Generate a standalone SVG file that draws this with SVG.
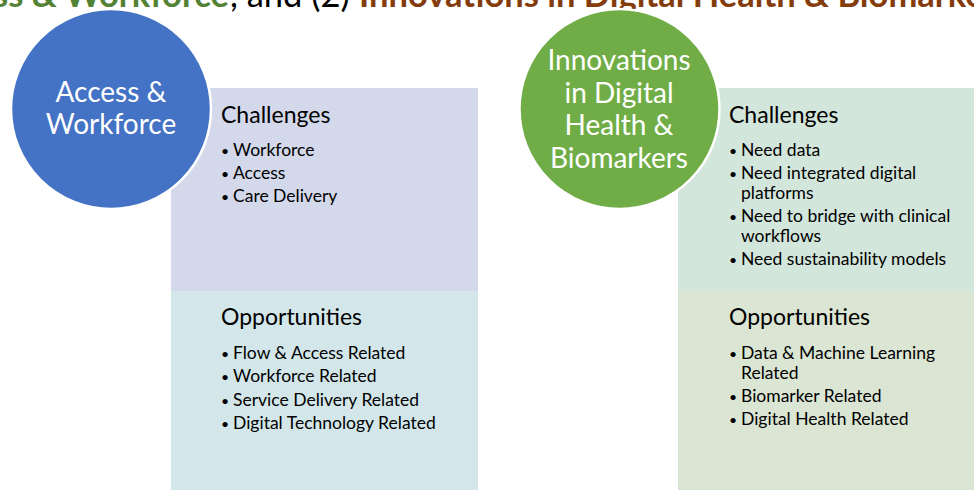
<svg xmlns="http://www.w3.org/2000/svg" width="974" height="490" viewBox="0 0 974 490">
  <style>
    .t { font-family: Lato, "Open Sans", "Liberation Sans", sans-serif; }
    .title-g { font-weight: 700; fill: #548235; font-size: 34.5px; }
    .title-k { font-weight: 400; fill: #000000; font-size: 34.5px; }
    .title-b { font-weight: 700; fill: #843C0C; font-size: 34.5px; }
    .circ { stroke: #FFFFFF; stroke-width: 2.5; }
    .ctext { fill: #FFFFFF; font-size: 28px; text-anchor: middle; }
    .head { fill: #000000; font-size: 23px; }
    .item { fill: #000000; font-size: 17.5px; }
    .bul { font-size: 14px; }
  </style>

  <g id="title" class="t">
    <text class="title-g" x="229" y="7" text-anchor="end">Access &amp; Workforce</text>
    <text class="title-k" x="230" y="7">, and (2)</text>
    <text class="title-b" x="359" y="7">Innovations in Digital Health &amp; Biomarkers</text>
  </g>

  <g id="access-challenges" class="t">
    <rect x="171" y="88" width="307" height="203" fill="#D3D8EB"/>
    <text class="head" x="221" y="122.5">Challenges</text>
    <text class="item" y="155.5"><tspan class="bul" x="221">•</tspan><tspan x="233">Workforce</tspan></text>
    <text class="item" y="178.9"><tspan class="bul" x="221">•</tspan><tspan x="233">Access</tspan></text>
    <text class="item" y="202.3"><tspan class="bul" x="221">•</tspan><tspan x="233">Care Delivery</tspan></text>
  </g>

  <g id="access-opportunities" class="t">
    <rect x="171" y="291" width="307" height="199" fill="#D3E7EA"/>
    <text class="head" x="221" y="325">Opportunities</text>
    <text class="item" y="358.8"><tspan class="bul" x="221">•</tspan><tspan x="233">Flow &amp; Access Related</tspan></text>
    <text class="item" y="382.2"><tspan class="bul" x="221">•</tspan><tspan x="233">Workforce Related</tspan></text>
    <text class="item" y="405.6"><tspan class="bul" x="221">•</tspan><tspan x="233">Service Delivery Related</tspan></text>
    <text class="item" y="429"><tspan class="bul" x="221">•</tspan><tspan x="233">Digital Technology Related</tspan></text>
  </g>

  <g id="access-workforce" class="t">
    <circle class="circ" cx="111" cy="109" r="100" fill="#4472C4"/>
    <text class="ctext" x="111" y="101.5">Access &amp;</text>
    <text class="ctext" x="111" y="134">Workforce</text>
  </g>

  <g id="innovation-challenges" class="t">
    <rect x="678" y="88" width="296" height="203" fill="#D3E6DB"/>
    <text class="head" x="729" y="122.5">Challenges</text>
    <text class="item" y="155.5"><tspan class="bul" x="729">•</tspan><tspan x="741">Need data</tspan></text>
    <text class="item" y="178.9"><tspan class="bul" x="729">•</tspan><tspan x="741">Need integrated digital</tspan></text>
    <text class="item" x="741" y="198.7">platforms</text>
    <text class="item" y="222.1"><tspan class="bul" x="729">•</tspan><tspan x="741">Need to bridge with clinical</tspan></text>
    <text class="item" x="741" y="241.9">workflows</text>
    <text class="item" y="265.3"><tspan class="bul" x="729">•</tspan><tspan x="741">Need sustainability models</tspan></text>
  </g>

  <g id="innovation-opportunities" class="t">
    <rect x="678" y="291" width="296" height="199" fill="#DAE5D3"/>
    <text class="head" x="729" y="325">Opportunities</text>
    <text class="item" y="358.8"><tspan class="bul" x="729">•</tspan><tspan x="741">Data &amp; Machine Learning</tspan></text>
    <text class="item" x="741" y="378.6">Related</text>
    <text class="item" y="402"><tspan class="bul" x="729">•</tspan><tspan x="741">Biomarker Related</tspan></text>
    <text class="item" y="425.4"><tspan class="bul" x="729">•</tspan><tspan x="741">Digital Health Related</tspan></text>
  </g>

  <g id="innovations" class="t">
    <circle class="circ" cx="619.5" cy="109" r="100" fill="#70AD47"/>
    <text class="ctext" x="619" y="70">Innovations</text>
    <text class="ctext" x="619" y="102.5">in Digital</text>
    <text class="ctext" x="619" y="135">Health &amp;</text>
    <text class="ctext" x="619" y="167.5">Biomarkers</text>
  </g>

  <g id="connectors"/>
</svg>
